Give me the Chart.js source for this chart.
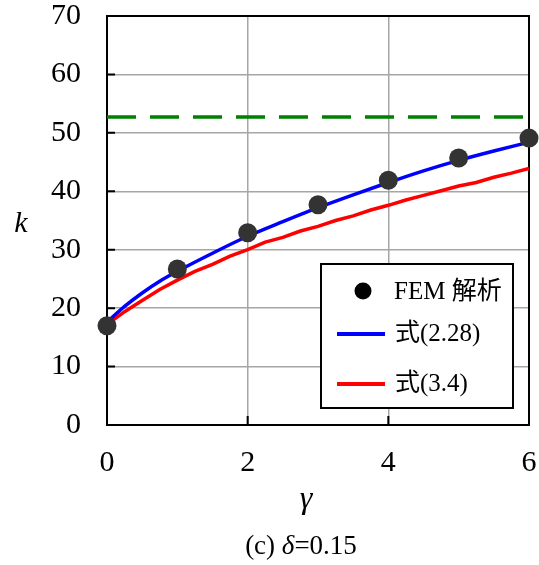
<!DOCTYPE html>
<html>
<head>
<meta charset="utf-8">
<script src="https://cdn.jsdelivr.net/npm/chart.js@4/dist/chart.umd.min.js"></script>
<style>
  html, body { margin: 0; padding: 0; background: #fff; }
</style>
</head>
<body>
<canvas id="myChart" width="539" height="565"></canvas>
<script>
// FEM results (points)
const femGamma = [0, 1, 2, 3, 4, 5, 6];
const femK = [17.0, 26.7, 32.9, 37.7, 41.9, 45.7, 49.1];

// eq. (2.28) - blue curve
const eq228Gamma = [0, 0.25, 0.5, 0.75, 1, 1.5, 2, 2.5, 3, 3.5, 4, 4.5, 5, 5.5, 6];
const eq228K = [17.6, 20.3, 22.6, 24.6, 26.3, 29.4, 32.3, 34.8, 37.2, 39.4, 41.5, 43.5, 45.3, 46.9, 48.4];

// eq. (3.4) - red curve (slightly jagged)
const eq34Gamma = [0, 0.25, 0.5, 0.75, 1, 1.25, 1.5, 1.75, 2, 2.25, 2.5, 2.75, 3, 3.25, 3.5, 3.75, 4, 4.25, 4.5, 4.75, 5, 5.25, 5.5, 5.75, 6];
const eq34K = [17.2, 19.4, 21.3, 23.2, 24.8, 26.3, 27.5, 28.9, 30.0, 31.3, 32.1, 33.2, 34.0, 35.0, 35.8, 36.8, 37.6, 38.5, 39.3, 40.1, 40.9, 41.5, 42.4, 43.1, 43.9];

// upper limit - green dashed
const limitGamma = [0, 6];
const limitK = [52.7, 52.7];

const xTicks = [0, 2, 4, 6];
const yTicks = [0, 10, 20, 30, 40, 50, 60, 70];

const SERIF = "'Liberation Serif', 'Times New Roman', serif";
const LEGEND_FONT = "'Liberation Serif', 'Noto Sans CJK JP', serif";

const toXY = (xs, ys) => xs.map((v, i) => ({ x: v, y: ys[i] }));

// no extra padding from tick labels, the frame sits where the layout says
function fixPadding(s) {
    s.paddingTop = 0;
    s.paddingBottom = 0;
    s.paddingLeft = 0;
    s.paddingRight = 0;
}

// frame, inner ticks, axis titles, caption and legend
const decor = {
    id: 'decor',
    beforeDatasetsDraw(chart) {
        const { ctx, chartArea: a, scales: { x, y } } = chart;
        ctx.save();
        ctx.strokeStyle = '#000';
        ctx.lineWidth = 2;
        ctx.strokeRect(a.left, a.top, a.right - a.left, a.bottom - a.top);
        ctx.beginPath();
        yTicks.forEach(v => {
            const py = y.getPixelForValue(v);
            ctx.moveTo(a.left, py);
            ctx.lineTo(a.left + 8, py);
        });
        xTicks.forEach(v => {
            const px = x.getPixelForValue(v);
            ctx.moveTo(px, a.bottom);
            ctx.lineTo(px, a.bottom - 9);
        });
        ctx.stroke();
        ctx.restore();
    },
    afterDraw(chart) {
        const { ctx, chartArea: a } = chart;
        ctx.save();
        ctx.fillStyle = '#000';
        ctx.textBaseline = 'middle';
        ctx.textAlign = 'center';

        // axis titles
        ctx.font = 'italic 30px ' + SERIF;
        ctx.fillText('k', 21, 224);
        ctx.font = 'italic 32px ' + SERIF;
        ctx.fillText('γ', 306, 500);

        // caption "(c) δ=0.15"
        ctx.textAlign = 'left';
        const parts = [['(c) ', ''], ['δ', 'italic '], ['=0.15', '']];
        let total = 0;
        parts.forEach(p => { ctx.font = p[1] + '27px ' + SERIF; total += ctx.measureText(p[0]).width; });
        let cx = 301 - total / 2;
        parts.forEach(p => {
            ctx.font = p[1] + '27px ' + SERIF;
            ctx.fillText(p[0], cx, 547);
            cx += ctx.measureText(p[0]).width;
        });

        // legend box
        const bx = a.right - 208, by = a.bottom - 161, bw = 192, bh = 144;
        ctx.fillStyle = '#fff';
        ctx.fillRect(bx, by, bw, bh);
        ctx.strokeStyle = '#000';
        ctx.lineWidth = 2;
        ctx.strokeRect(bx, by, bw, bh);

        ctx.fillStyle = '#000';
        ctx.beginPath();
        ctx.arc(bx + 42, by + 27, 8.5, 0, Math.PI * 2);
        ctx.fill();

        ctx.lineWidth = 4;
        ctx.strokeStyle = '#0000ff';
        ctx.beginPath();
        ctx.moveTo(bx + 16, by + 70);
        ctx.lineTo(bx + 64, by + 70);
        ctx.stroke();
        ctx.strokeStyle = '#ff0000';
        ctx.beginPath();
        ctx.moveTo(bx + 16, by + 120);
        ctx.lineTo(bx + 64, by + 120);
        ctx.stroke();

        ctx.font = '25px ' + LEGEND_FONT;
        ctx.fillStyle = '#000';
        ctx.fillText('FEM 解析', bx + 73, by + 28);
        ctx.fillText('式(2.28)', bx + 74, by + 70);
        ctx.fillText('式(3.4)', bx + 74, by + 120);
        ctx.restore();
    }
};

const config = {
    type: 'scatter',
    data: {
        datasets: [
            {
                label: 'FEM 解析',
                data: toXY(femGamma, femK),
                pointRadius: 9.5,
                pointHoverRadius: 9.5,
                backgroundColor: '#333333',
                borderWidth: 0,
                showLine: false,
                clip: false,
                order: 0
            },
            {
                label: '式(2.28)',
                data: toXY(eq228Gamma, eq228K),
                showLine: true,
                borderColor: '#0000ff',
                borderWidth: 3.5,
                pointRadius: 0,
                cubicInterpolationMode: 'monotone',
                order: 2
            },
            {
                label: '式(3.4)',
                data: toXY(eq34Gamma, eq34K),
                showLine: true,
                borderColor: '#ff0000',
                borderWidth: 3.5,
                pointRadius: 0,
                tension: 0,
                order: 3
            },
            {
                label: 'limit',
                data: toXY(limitGamma, limitK),
                showLine: true,
                borderColor: '#008000',
                borderWidth: 3.5,
                borderDash: [29, 14],
                pointRadius: 0,
                order: 4
            }
        ]
    },
    options: {
        responsive: false,
        animation: false,
        layout: { padding: { top: 16, right: 10, left: 0, bottom: 0 } },
        plugins: {
            legend: { display: false },
            tooltip: { enabled: false }
        },
        scales: {
            x: {
                type: 'linear',
                min: 0,
                max: 6,
                afterFit: s => { s.height = 140; fixPadding(s); },
                afterBuildTicks: s => { s.ticks = xTicks.map(v => ({ value: v })); },
                grid: { color: '#a6a6a6', lineWidth: 1.5, drawTicks: false },
                border: { display: false },
                ticks: { padding: 20, color: '#000', font: { family: SERIF, size: 30 } }
            },
            y: {
                type: 'linear',
                min: 0,
                max: 70,
                afterFit: s => { s.width = 107; fixPadding(s); },
                afterBuildTicks: s => { s.ticks = yTicks.map(v => ({ value: v })); },
                grid: { color: '#a6a6a6', lineWidth: 1.5, drawTicks: false },
                border: { display: false },
                ticks: { padding: 26, color: '#000', font: { family: SERIF, size: 30 } }
            }
        }
    },
    plugins: [decor]
};

const myChart = new Chart(document.getElementById('myChart'), config);
</script>
</body>
</html>
